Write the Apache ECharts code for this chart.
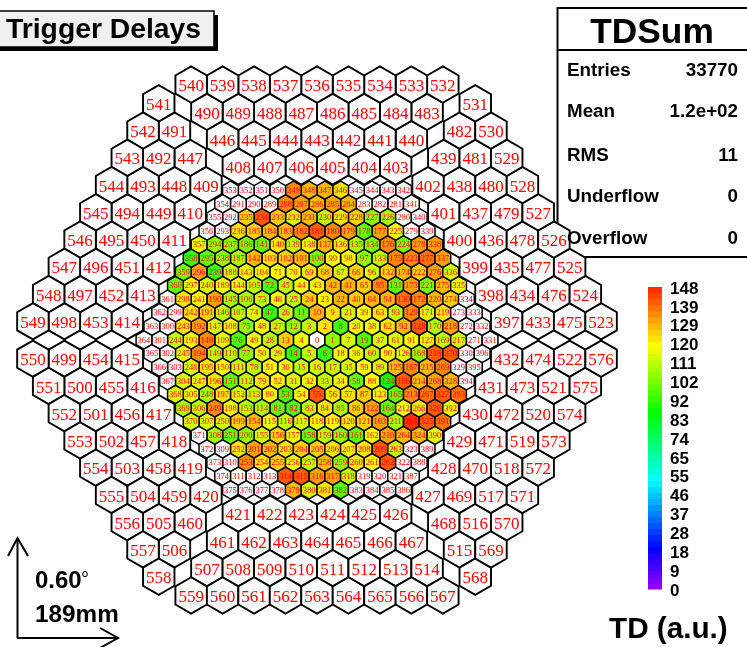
<!DOCTYPE html>
<html><head><meta charset="utf-8">
<style>html,body{margin:0;padding:0;background:#fff}#c{width:747px;height:647px}</style>
<script src="https://cdn.jsdelivr.net/npm/echarts@6/dist/echarts.min.js"></script>
</head><body><div id="c"></div>
<script>
// Measured trigger delay per inner pixel, index = pixel id (null = no signal)
const innerValues = [null,
106,122,112,116,112,94,
115,95,123,130,98,104,127,93,112,114,112,118,
96,116,115,130,120,125,112,110,110,112,113,116,115,118,112,116,113,117,
114,118,120,127,128,129,116,118,112,118,93,118,118,118,120,119,97,120,142,124,123,98,119,112,
115,122,122,128,127,126,113,125,122,120,119,97,110,113,106,97,106,112,122,120,98,96,110,124,107,125,125,120,113,120,
120,130,110,130,136,113,105,120,121,103,128,126,124,117,112,109,110,116,118,110,111,110,112,109,117,112,114,117,120,122,127,132,116,88,129,116,
116,141,135,137,98,127,110,103,108,122,128,118,110,123,99,128,118,118,108,112,115,135,112,119,100,115,111,130,115,126,116,98,110,104,98,120,132,100,98,140,136,105,
110,107,114,134,131,129,136,134,131,100,133,136,141,134,128,130,126,103,108,114,116,132,126,131,121,134,123,122,123,121,127,105,131,128,124,127,125,122,120,123,142,133,109,116,135,130,129,141,
114,131,123,129,101,127,134,103,121,107,104,127,124,110,128,115,127,141,125,124,105,104,93,115,120,122,122,112,118,114,116,108,134,113,98,122,134,124,125,116,110,128,106,122,119,141,112,130,146,124,137,131,136,142,
null,null,null,127,130,132,137,133,null,null,null,null,null,130,132,128,132,135,null,null,null,null,null,105,99,131,117,124,null,null,null,null,null,113,118,112,113,108,null,null,null,null,null,140,142,133,131,112,null,null,null,null,null,129,142,142,140,128,null,null,
null,null,null,null,116,115,133,133,null,null,null,null,null,null,null,122,128,130,135,null,null,null,null,null,null,null,116,92,102,98,null,null,null,null,null,null,null,113,109,115,null,null,null,null,null,null,null,null,130,114,122,100,null,null,null,null,null,null,null,116,139,121,137,null,null,null];
// Id ranges of the outer (double size) pixels: each sextant, ring by ring from the inside out
const outerRingFirstIds = [
  [403,440,483,532], // top
  [409,447,491,541], // upper left
  [415,454,499,550], // lower left
  [421,461,507,559], // bottom
  [427,468,515,568], // lower right
  [397,433,475,523]  // upper right
];
const scaleLabels = ['0','9','18','28','37','46','55','65','74','83','92','102','111','120','129','139','148'];
const scaleMax = 148;
const statRows = [['Entries','33770'],['Mean','1.2e+02'],['RMS','11'],['Underflow','0'],['Overflow','0']];
const statY = [71,112,156,197,239];

const S3 = Math.sqrt(3)/2;
const palette = [];
for (let i=0;i<50;i++){ palette.push('hsl('+(274-263*i/49).toFixed(1)+',100%,50%)'); }
function colorOf(v){ if(v==null) return '#ffffff'; return palette[Math.min(49,Math.floor(v/scaleMax*50))]; }

// Inner camera lattice: spiral rings, unit = pixel spacing
function innerPos(id){
  if(id===0) return [0,0];
  let k=1; while(1+3*k*(k+1)<=id) k++;
  const off=id-(1+3*k*(k-1));
  const side=Math.floor(off/k), t=off%k;
  const a=side*Math.PI/3, b=(side+1)*Math.PI/3;
  const x=k*(Math.cos(a)*(k-t)/k+Math.cos(b)*t/k);
  const y=k*(Math.sin(a)*(k-t)/k+Math.sin(b)*t/k);
  return [x,y];
}
const OUT0 = 11.04;
const cells=[];
innerValues.forEach((v,id)=>{const p=innerPos(id);cells.push([p[0],p[1],1,id,v]);});
outerRingFirstIds.forEach((firsts,sx)=>{
  const ang=sx*Math.PI/3, ca=Math.cos(ang), sa=Math.sin(ang);
  firsts.forEach((first,r)=>{
    const n=6+r;
    for(let i=0;i<n;i++){
      const lx=2*((n-1)/2-i), ly=OUT0+r*2*S3;
      cells.push([lx*ca-ly*sa, lx*sa+ly*ca, 2, first+i, null]);
    }
  });
});
const bands = palette.map((c,i)=>[i/50*scaleMax,(i+1)/50*scaleMax,i]);

function renderHex(params,api){
  const c=api.coord([api.value(0),api.value(1)]);
  const unit=api.size([1,1])[0];
  const scale=api.value(2);
  const R=unit*scale/Math.sqrt(3);
  const pts=[];
  for(let i=0;i<6;i++){const a=Math.PI/6+i*Math.PI/3;pts.push([c[0]+R*Math.cos(a),c[1]+R*Math.sin(a)]);}
  return {type:'group',children:[
    {type:'polygon',shape:{points:pts},style:{fill:colorOf(cells[params.dataIndex][4]),stroke:'#000',lineWidth:scale===2?1.9:1.5}},
    {type:'text',z2:5,style:{text:String(api.value(3)),x:c[0],y:c[1]+(scale===2?2.2:0.5),align:'center',verticalAlign:'middle',
      fill:'#ff0000',font:(scale===2?'17px':'8.5px')+' "Liberation Serif"'}}
  ]};
}
function renderBand(params,api){
  const p0=api.coord([0,api.value(0)]), p1=api.coord([1,api.value(1)]);
  return {type:'rect',shape:{x:p0[0],y:p1[1],width:p1[0]-p0[0],height:p0[1]-p1[1]+0.5},style:{fill:palette[api.value(2)]}};
}
const SANS='"Liberation Sans"';
const graphics=[
  {type:'rect',z:0,shape:{x:557.5,y:8,width:200,height:249},style:{fill:'#fff',stroke:'#000',lineWidth:2}},
  {type:'line',z:0,shape:{x1:557,y1:50,x2:747,y2:50},style:{stroke:'#000',lineWidth:2}},
  {type:'rect',z:10,shape:{x:-2,y:15,width:220,height:36},style:{fill:'#000'}},
  {type:'rect',z:11,shape:{x:-2,y:11,width:216,height:36},style:{fill:'#f0f0f0',stroke:'#000',lineWidth:1.5}},
  {type:'text',z:12,style:{text:'Trigger Delays',x:6,y:30,verticalAlign:'middle',font:'bold 28.3px '+SANS,fill:'#000'}},
  {type:'text',z:12,style:{text:'TDSum',x:652,y:33,align:'center',verticalAlign:'middle',font:'bold 35.3px '+SANS,fill:'#000'}},
  {type:'polyline',z:12,shape:{points:[[17.5,638],[17.5,538]]},style:{stroke:'#000',lineWidth:2,fill:'none'}},
  {type:'polyline',z:12,shape:{points:[[8,556],[17.5,538],[28,556]]},style:{stroke:'#000',lineWidth:2,fill:'none'}},
  {type:'polyline',z:12,shape:{points:[[17,638],[118,638]]},style:{stroke:'#000',lineWidth:2,fill:'none'}},
  {type:'polyline',z:12,shape:{points:[[100,628],[118,638],[100,648]]},style:{stroke:'#000',lineWidth:2,fill:'none'}},
  {type:'text',z:12,style:{text:'0.60',x:35,y:581,verticalAlign:'middle',font:'bold 24px '+SANS,fill:'#000'}},
  {type:'text',z:12,style:{text:'°',x:81,y:580,verticalAlign:'middle',font:'20px '+SANS,fill:'#000'}},
  {type:'text',z:12,style:{text:'189mm',x:35,y:615,verticalAlign:'middle',font:'bold 24.3px '+SANS,fill:'#000'}},
  {type:'text',z:12,style:{text:'TD (a.u.)',x:609,y:630,verticalAlign:'middle',font:'bold 29.7px '+SANS,fill:'#000'}}
];
statRows.forEach((r,i)=>{
  graphics.push({type:'text',z:12,style:{text:r[0],x:567,y:statY[i],verticalAlign:'middle',font:'bold 18.8px '+SANS,fill:'#000'}});
  graphics.push({type:'text',z:12,style:{text:r[1],x:738,y:statY[i],align:'right',verticalAlign:'middle',font:'bold 18.8px '+SANS,fill:'#000'}});
});
const CX=317,CY=340,U=15.73;
const chart=echarts.init(document.getElementById('c'),null,{renderer:'canvas'});
chart.setOption({
  animation:false,
  backgroundColor:'#fff',
  grid:[{left:0,top:0,width:747,height:647},{left:648,top:287,width:14,height:302},{left:648,top:289,width:14,height:302}],
  xAxis:[
    {type:'value',gridIndex:0,min:-CX/U,max:(747-CX)/U,show:false},
    {type:'value',gridIndex:1,min:0,max:1,show:false},
    {type:'value',gridIndex:2,min:0,max:1,show:false}
  ],
  yAxis:[
    {type:'value',gridIndex:0,min:-(647-CY)/U,max:CY/U,show:false},
    {type:'value',gridIndex:1,min:0,max:scaleMax,show:false},
    {type:'value',gridIndex:2,min:0,max:scaleMax,interval:scaleMax/16,position:'right',
     axisLine:{show:false},axisTick:{show:false},splitLine:{show:false},
     axisLabel:{show:true,margin:8,color:'#000',fontFamily:'Liberation Sans',fontWeight:'bold',fontSize:17,
       formatter:(v)=>scaleLabels[Math.round(v/scaleMax*16)]}}
  ],
  series:[
    {type:'custom',name:'pixels',xAxisIndex:0,yAxisIndex:0,clip:false,silent:true,renderItem:renderHex,data:cells,
      encode:{x:0,y:1}},
    {type:'custom',name:'scale',xAxisIndex:1,yAxisIndex:1,silent:true,renderItem:renderBand,data:bands,encode:{y:[0,1]}}
  ],
  graphic:{elements:graphics}
});
</script></body></html>
